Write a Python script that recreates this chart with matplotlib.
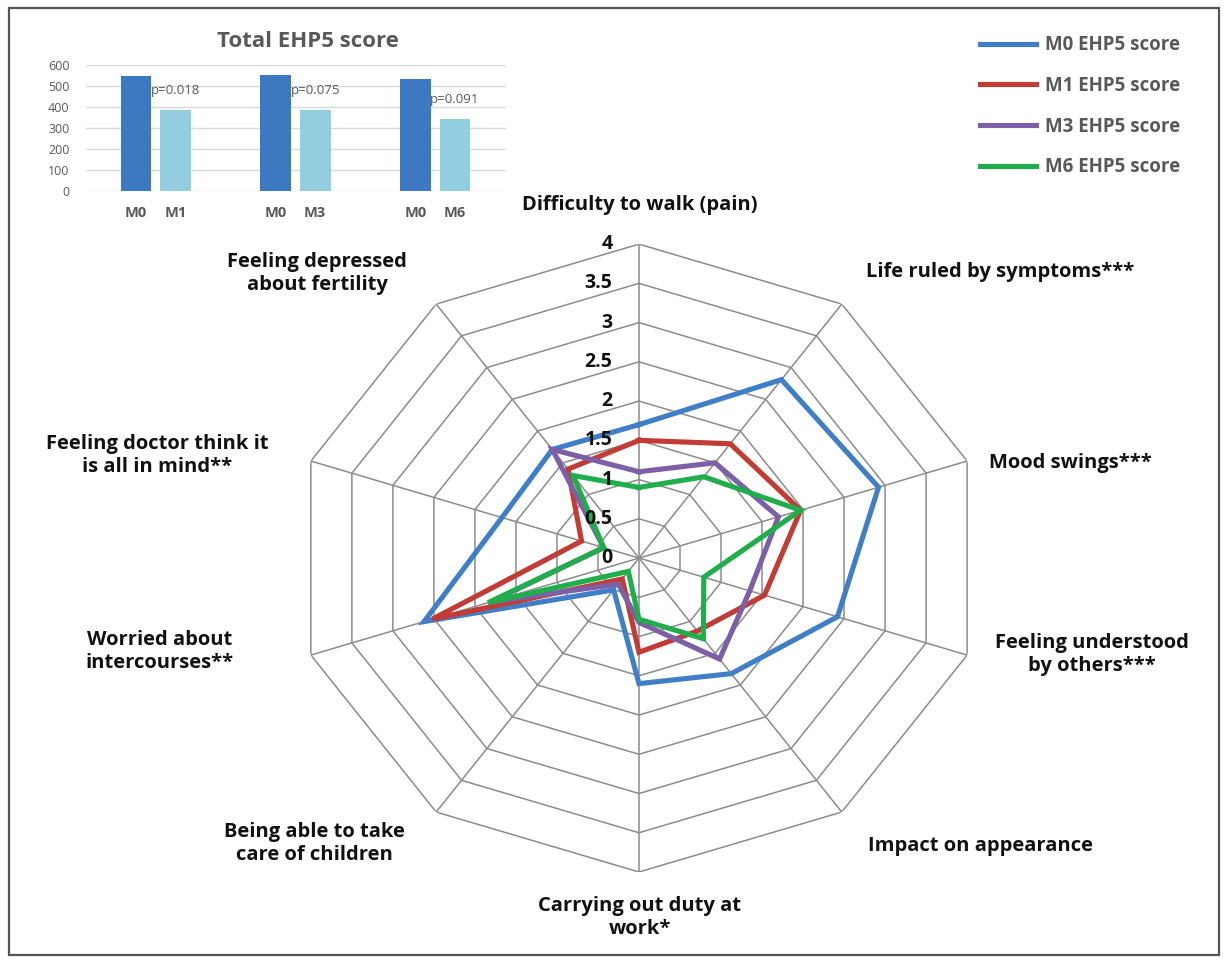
import numpy as np
import matplotlib.pyplot as plt
from matplotlib.patches import Rectangle

# radar data (clockwise from top)
categories = [
    'Difficulty to walk (pain)',
    'Life ruled by symptoms***',
    'Mood swings***',
    'Feeling understood\nby others***',
    'Impact on appearance',
    'Carrying out duty at\nwork*',
    'Being able to take\ncare of children',
    'Worried about\nintercourses**',
    'Feeling doctor think it\nis all in mind**',
    'Feeling depressed\nabout fertility',
]
m0 = [1.70, 2.81, 2.92, 2.42, 1.82, 1.60, 0.50, 2.62, 1.67, 1.71]
m1 = [1.50, 1.80, 1.97, 1.53, 1.15, 1.20, 0.33, 2.52, 0.70, 1.40]
m3 = [1.10, 1.50, 1.70, 1.35, 1.59, 0.82, 0.41, 1.80, 0.43, 1.71]
m6 = [0.90, 1.28, 1.97, 0.79, 1.27, 0.78, 0.21, 1.84, 0.43, 1.30]
series_names = ['M0 EHP5 score', 'M1 EHP5 score', 'M3 EHP5 score', 'M6 EHP5 score']
series_colors = ['#3f7fc8', '#c23b34', '#7d5fa8', '#1fae4b']
ring_levels = [0.5, 1, 1.5, 2, 2.5, 3, 3.5, 4]
ring_labels = ['0', '0.5', '1', '1.5', '2', '2.5', '3', '3.5', '4']

# inset bar data
bar_labels = ['M0', 'M1', 'M0', 'M3', 'M0', 'M6']
bar_groups = [0, 0, 1, 1, 2, 2]
bar_values = [548, 385, 552, 385, 532, 342]
p_values = ['p=0.018', 'p=0.075', 'p=0.091']

# label positions (figure fraction)
label_pos = [(0.520, 0.787), (0.813, 0.718), (0.870, 0.519), (0.888, 0.320),
             (0.797, 0.122), (0.520, 0.047), (0.256, 0.124), (0.130, 0.323),
             (0.128, 0.527), (0.258, 0.716)]

fig = plt.figure(figsize=(12.3, 9.63), dpi=100)
fig.patch.set_facecolor('white')
fig.patches.append(Rectangle((0.007, 0.008), 0.984, 0.984, transform=fig.transFigure,
                             fill=False, edgecolor='#555555', linewidth=1.6))

FONT = ['Open Sans', 'DejaVu Sans']
grey = '#595959'

# ---- radar ----
ax = fig.add_axes([0.239, 0.0945, 0.561, 0.652], projection='polar')
ax.set_theta_zero_location('N')
ax.set_theta_direction(-1)
ax.set_aspect('auto')
ax.set_ylim(0, 4)
ax.grid(False)
ax.spines['polar'].set_visible(False)
ax.set_xticks([])
ax.set_yticks([])
ax.patch.set_alpha(0)

n = len(categories)
theta = np.linspace(0, 2 * np.pi, n, endpoint=False)
theta_c = np.append(theta, theta[0])
for lvl in ring_levels:
    ax.plot(theta_c, [lvl] * (n + 1), color='#8c8c8c', lw=1.1, zorder=1)
for t in theta:
    ax.plot([t, t], [0, 4], color='#8c8c8c', lw=1.1, zorder=1)

handles = []
for vals, name, col in zip([m0, m1, m3, m6], series_names, series_colors):
    h, = ax.plot(theta_c, vals + vals[:1], color=col, lw=3.7, label=name, zorder=3,
                 solid_joinstyle='miter')
    handles.append(h)

for i, lab in enumerate(ring_labels):
    ax.annotate(lab, xy=(0, i * 0.5), xytext=(-19, 0), textcoords='offset points',
                ha='right', va='center', fontsize=14, fontweight='bold',
                family=FONT, color='#111111', zorder=4)

for lab, (x, y) in zip(categories, label_pos):
    fig.text(x, y, lab, ha='center', va='center', fontsize=14.5, fontweight='bold',
             family=FONT, color='#111111', linespacing=1.2)

fig.legend(handles=handles, loc='upper left', bbox_to_anchor=(0.789, 0.973),
           frameon=False, handlelength=3.0, handletextpad=0.5, labelspacing=1.1,
           borderpad=0, prop={'family': FONT, 'size': 13.5, 'weight': 'bold'},
           labelcolor=grey)

# ---- inset bar chart ----
bx = fig.add_axes([0.070, 0.802, 0.341, 0.1305])
offsets = [-0.143 if i % 2 == 0 else 0.139 for i in range(len(bar_values))]
xpos = [g + o for g, o in zip(bar_groups, offsets)]
cols = ['#3d79c0' if i % 2 == 0 else '#92cde0' for i in range(len(bar_values))]
bx.bar(xpos, bar_values, width=0.22, color=cols, zorder=3)
bx.set_xlim(-0.5, 2.5)
bx.set_ylim(0, 600)
bx.set_yticks(range(0, 601, 100))
bx.yaxis.grid(True, color='#d9d9d9', lw=1)
bx.set_axisbelow(True)
for s in bx.spines.values():
    s.set_visible(False)
bx.tick_params(length=0)
bx.tick_params(axis='y', labelsize=9, labelcolor=grey, pad=12)
for lab in bx.get_yticklabels():
    lab.set_family(FONT)
bx.set_xticks(xpos)
bx.set_xticklabels(bar_labels, fontsize=10.5, fontweight='bold', color=grey, family=FONT)
bx.tick_params(axis='x', pad=11)
for i, p in enumerate(p_values):
    j = 2 * i + 1
    bx.text(xpos[j], bar_values[j] + 95, p, ha='center', va='center', fontsize=9.5,
            color=grey, family=FONT, zorder=4)
bx.set_title('Total EHP5 score', fontsize=16, fontweight='bold', color=grey,
             family=FONT, pad=13, x=0.53)

fig.savefig('out.png', dpi=100, facecolor='white')
